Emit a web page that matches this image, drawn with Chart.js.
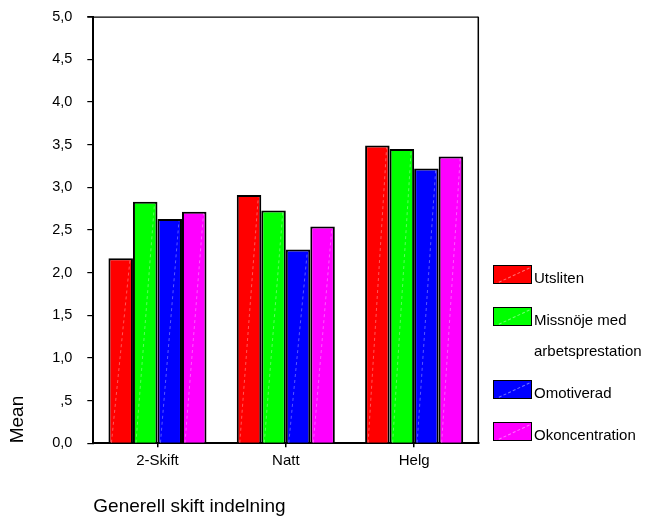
<!DOCTYPE html>
<html>
<head>
<meta charset="utf-8">
<script src="https://cdn.jsdelivr.net/npm/chart.js@4"></script>
<style>
  html,body{margin:0;padding:0;background:#fff;}
  #wrap{position:relative;width:648px;height:518px;}
  #legend{position:absolute;left:493px;top:265px;font-family:"Liberation Sans",Arial,sans-serif;font-size:15px;color:#000;}
  .item{display:flex;align-items:flex-start;margin-bottom:14.5px;}
  .box{width:37px;height:17px;border:1.5px solid #000;position:relative;overflow:hidden;}
  .box i{position:absolute;left:0;width:44px;border-top:1px dashed rgba(255,255,255,.45);transform:rotate(-25deg);transform-origin:0 0;top:18px;}
  .txt{margin-left:2px;line-height:31px;margin-top:-3.5px;white-space:pre-line;}
</style>
</head>
<body>
<div id="wrap">
  <canvas id="c" width="648" height="518"></canvas>
  <div id="legend"></div>
</div>
<script>
// Data
const categories = ["2-Skift","Natt","Helg"];
const seriesNames = ["Utsliten","Missnöje med\narbetsprestation","Omotiverad","Okoncentration"];
const seriesColors = ["#ff0000","#00ff00","#0000ff","#ff00ff"];
const utsliten = [2.17, 2.91, 3.49];
const missnoje = [2.83, 2.73, 3.45];
const omotiverad = [2.63, 2.27, 3.22];
const okoncentration = [2.715, 2.54, 3.36];
const seriesValues = [utsliten, missnoje, omotiverad, okoncentration];

const FONT = "'Liberation Sans', Arial, sans-serif";

// spss style: 0,5 -> ,5
function fmtTick(v){
  let s = v.toFixed(1).replace(".", ",");
  if (v > 0 && v < 1) s = s.slice(1);
  return s;
}

// frame (top + right) and the faint diagonal in each bar
const framePlugin = {
  id: "frame",
  afterDatasetsDraw(chart){
    const {ctx, chartArea:a} = chart;
    ctx.save();
    ctx.strokeStyle = "rgba(255,255,255,0.35)";
    ctx.lineWidth = 1;
    ctx.setLineDash([3,3]);
    chart.data.datasets.forEach((ds,i)=>{
      chart.getDatasetMeta(i).data.forEach(bar=>{
        const p = bar.getProps(["x","y","base","width"], true);
        ctx.beginPath();
        ctx.moveTo(p.x - p.width/2 + 3, p.base);
        ctx.lineTo(p.x + p.width/2 - 3, p.y + 2);
        ctx.stroke();
      });
    });
    ctx.setLineDash([]);
    ctx.strokeStyle = "#000";
    ctx.lineWidth = 1.2;
    ctx.beginPath();
    ctx.moveTo(a.left - 6, a.top + 0.5);
    ctx.lineTo(a.right, a.top + 0.5);
    ctx.stroke();
    ctx.lineWidth = 1.5;
    ctx.beginPath();
    ctx.moveTo(a.right, a.top);
    ctx.lineTo(a.right, a.bottom);
    ctx.stroke();
    ctx.restore();
  }
};

new Chart(document.getElementById("c"), {
  type: "bar",
  data: {
    labels: categories,
    datasets: seriesValues.map((vals,i)=>({
      label: seriesNames[i],
      data: vals,
      backgroundColor: seriesColors[i],
      borderColor: "#000",
      borderWidth: 2,
      categoryPercentage: 0.764,
      barPercentage: 1
    }))
  },
  options: {
    responsive: false,
    animation: false,
    layout: {padding: {top: 16.7, right: 169.7, bottom: 0, left: 0}},
    plugins: {legend: {display: false}, tooltip: {enabled: false}},
    scales: {
      x: {
        grid: {display: true, drawOnChartArea: false, offset: false, tickLength: 4, color: "#000", lineWidth: 1.5},
        border: {display: true, color: "#000", width: 2},
        ticks: {color: "#000", font: {family: FONT, size: 15}, padding: 5},
        title: {display: true, text: "Generell skift indelning", align: "start", color: "#000",
                font: {family: FONT, size: 19}, padding: {top: 0, bottom: 0}},
        afterFit(s){ s.height = 74.7; }
      },
      y: {
        min: 0, max: 5,
        grid: {display: true, drawOnChartArea: false, tickLength: 6, color: "#000", lineWidth: 1.2},
        border: {display: true, color: "#000", width: 2},
        ticks: {stepSize: 0.5, color: "#000", font: {family: FONT, size: 14.5}, padding: 15, callback: v => fmtTick(v)},
        title: {display: true, text: "Mean", align: "start", color: "#000",
                font: {family: FONT, size: 19}, padding: {top: 6, bottom: 0}},
        afterFit(s){ s.width = 93.3; s.paddingTop = 0; s.paddingBottom = 0; }
      }
    }
  },
  plugins: [framePlugin]
});

// legend
const lg = document.getElementById("legend");
seriesNames.forEach((name,i)=>{
  const it = document.createElement("div");
  it.className = "item";
  it.innerHTML = `<div class="box" style="background:${seriesColors[i]}"><i></i></div><div class="txt"></div>`;
  it.querySelector(".txt").textContent = name;
  lg.appendChild(it);
});
</script>
</body>
</html>
